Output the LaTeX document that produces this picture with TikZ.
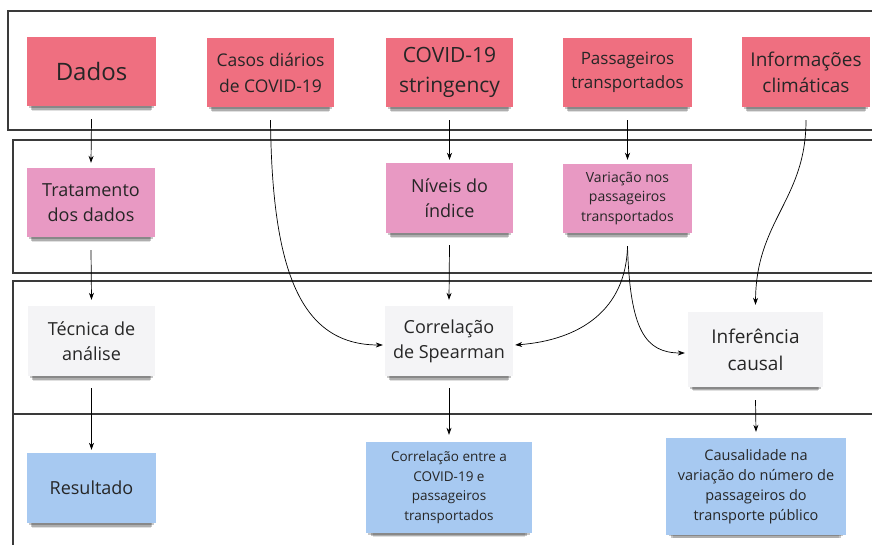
\documentclass[tikz,border=0pt]{standalone}
\usepackage{fontspec}
\setmainfont{Open Sans}
\usetikzlibrary{arrows.meta,shadows}
\definecolor{redbox}{HTML}{EF6F80}
\definecolor{pinkbox}{HTML}{E899C3}
\definecolor{greybox}{HTML}{F4F4F6}
\definecolor{bluebox}{HTML}{A7C9F1}
\definecolor{txt}{HTML}{262626}
\definecolor{frame}{HTML}{3A3A3A}
\tikzset{
  nd/.style={align=center, text=txt, inner sep=2pt,
    drop shadow={shadow xshift=0pt,shadow yshift=-3pt,shadow scale=0.97,opacity=0.22,fill=black},
    drop shadow={shadow xshift=0pt,shadow yshift=-6pt,shadow scale=0.94,opacity=0.22,fill=black},
    drop shadow={shadow xshift=0pt,shadow yshift=-8pt,shadow scale=0.92,opacity=0.12,fill=black}},
  rednode/.style={nd, fill=redbox},
  pinknode/.style={nd, fill=pinkbox},
  greynode/.style={nd, fill=greybox},
  bluenode/.style={nd, fill=bluebox},
  ar/.style={-{Stealth[length=7pt,width=5pt]}, line width=0.7pt, draw=black},
  frm/.style={draw=frame, line width=1.2pt},
  fs18/.style={font=\fontsize{18}{25}\selectfont},
}
\begin{document}
\begin{tikzpicture}[x=1pt,y=-1pt]
\useasboundingbox (0,0) rectangle (872,545);
\clip (0,0) rectangle (872,545);
\fill[white] (0,0) rectangle (872,545);
% frames
\draw[frm] (8,11) rectangle (890,130);
\draw[frm] (13,140) rectangle (890,273);
\draw[frm] (13,281) rectangle (890,414);
\draw[frm] (13,414) rectangle (890,560);
\draw[draw=frame, line width=2.8pt] (13,414) -- (890,414);
% row 1
\node[rednode, minimum width=129pt, minimum height=69pt, font=\fontsize{24}{30}\selectfont] (dados) at (91.5,71.5) {Dados};
\node[rednode, minimum width=127pt, minimum height=69pt, font=\fontsize{17.5}{26}\selectfont] (casos) at (270.5,72.5) {Casos diários\\de COVID-19};
\node[rednode, minimum width=127pt, minimum height=69pt, font=\fontsize{21}{30}\selectfont] (covid) at (449.5,72.5) {COVID-19\\stringency};
\node[rednode, minimum width=129pt, minimum height=69pt, font=\fontsize{17}{24}\selectfont] (pass) at (627.5,72.5) {Passageiros\\transportados};
\node[rednode, minimum width=128pt, minimum height=70pt, font=\fontsize{19}{26}\selectfont] (info) at (806,72) {Informações\\climáticas};
% row 2
\node[pinknode, fs18, minimum width=128pt, minimum height=69pt] (trat) at (91,202.5) {Tratamento\\dos dados};
\node[pinknode, fs18, minimum width=127pt, minimum height=70pt] (niveis) at (449.5,198) {Níveis do\\índice};
\node[pinknode, minimum width=129pt, minimum height=69pt, font=\fontsize{14}{19.5}\selectfont] (var) at (627.5,198.5) {Variação nos\\passageiros\\transportados};
% row 3
\node[greynode, fs18, minimum width=127pt, minimum height=70pt] (tec) at (91.5,341) {Técnica de\\análise};
\node[greynode, fs18, minimum width=128pt, minimum height=70pt] (spear) at (449,341) {Correlação\\de Spearman};
\node[greynode, minimum width=135pt, minimum height=75pt, font=\fontsize{19}{27}\selectfont] (infer) at (755.5,349.5) {Inferência\\causal};
% row 4
\node[bluenode, fs18, minimum width=129pt, minimum height=70pt] (res) at (91.5,488) {Resultado};
\node[bluenode, minimum width=166pt, minimum height=91pt, font=\fontsize{13.5}{19.5}\selectfont] (corr) at (449,487.5) {Correlação entre a\\COVID-19 e\\passageiros\\transportados};
\node[bluenode, minimum width=180pt, minimum height=97pt, font=\fontsize{14.5}{20}\selectfont] (caus) at (756,486.5) {Causalidade na\\variação do número de\\passageiros do\\transporte público};
% straight arrows
\draw[ar] ([yshift=-13pt]dados.south) -- ([yshift=5pt]trat.north);
\draw[ar] ([yshift=-13pt]trat.south) -- ([yshift=6pt]tec.north);
\draw[ar] ([yshift=-12pt]tec.south) -- ([yshift=3pt]res.north);
\draw[ar] ([yshift=-13pt]covid.south) -- ([yshift=3pt]niveis.north);
\draw[ar] ([yshift=-12pt]niveis.south) -- ([yshift=6pt]spear.north);
\draw[ar] ([yshift=-12pt]spear.south) -- ([yshift=7pt]corr.north);
\draw[ar] ([yshift=-13pt]pass.south) -- ([yshift=4pt]var.north);
\draw[ar] ([yshift=-13pt]infer.south) -- ([yshift=6pt]caus.north);
% curved arrows
\draw[ar] ([yshift=-13pt]casos.south) .. controls (272,270) and (300,345) .. ([xshift=-2pt,yshift=-4pt]spear.west);
\draw[ar] ([yshift=-13pt]var.south) .. controls (626,310) and (580,340) .. ([xshift=2pt,yshift=-4pt]spear.east);
\draw[ar] ([yshift=-13pt]var.south) .. controls (630,330) and (645,353) .. ([xshift=-3pt,yshift=-3.5pt]infer.west);
\draw[ar] ([yshift=-13pt]info.south) .. controls (806,200) and (756,220) .. ([yshift=7pt]infer.north);
\end{tikzpicture}
\end{document}
